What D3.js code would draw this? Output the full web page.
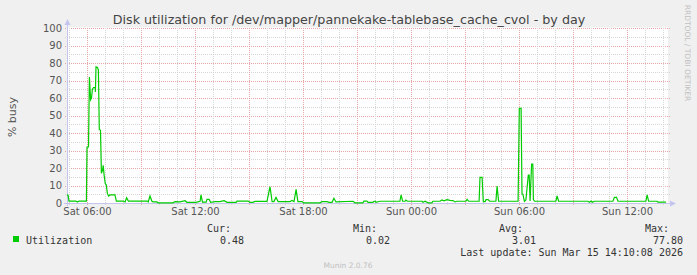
<!DOCTYPE html>
<html>
<head>
<meta charset="utf-8">
<script src="https://cdn.jsdelivr.net/npm/d3@7"></script>
<style>
	body { margin: 0; background: #f0f0f0; }
	svg { display: block; }
</style>
</head>
<body>
<div id="chart"></div>
<script>
// samples (day of March 2026 + local time)
const sampleTimes = [
	'14 04:53', '14 04:57', '14 05:00', '14 05:23', '14 05:28', '14 05:33', '14 05:58',
	'14 06:00', '14 06:05', '14 06:08', '14 06:12', '14 06:15', '14 06:18', '14 06:22',
	'14 06:27', '14 06:28', '14 06:30', '14 06:35', '14 06:38', '14 06:41', '14 06:45',
	'14 06:48', '14 06:52', '14 06:54', '14 06:57', '14 07:01', '14 07:04', '14 07:08',
	'14 07:12', '14 07:17', '14 07:33', '14 07:38', '14 08:01', '14 08:07', '14 08:12',
	'14 08:18', '14 09:21', '14 09:24', '14 09:30', '14 09:36', '14 09:40', '14 09:53',
	'14 09:57', '14 10:47', '14 10:53', '14 11:10', '14 11:27', '14 11:33', '14 12:03',
	'14 12:17', '14 12:20', '14 12:25', '14 12:37', '14 12:40', '14 12:47', '14 12:52',
	'14 13:07', '14 13:23', '14 13:37', '14 13:47', '14 14:17', '14 14:20', '14 14:57',
	'14 15:03', '14 15:13', '14 15:20', '14 16:00', '14 16:10', '14 16:17', '14 16:23',
	'14 16:30', '14 16:37', '14 17:17', '14 17:23', '14 17:30', '14 17:37', '14 17:43',
	'14 17:57', '14 18:02', '14 18:57', '14 19:03', '14 19:20', '14 19:27', '14 19:37',
	'14 19:43', '14 19:50', '14 20:47', '14 20:53', '14 21:20', '14 21:23', '14 21:33',
	'14 21:37', '14 21:53', '14 21:57', '14 22:02', '14 22:03', '14 22:17', '14 23:23',
	'14 23:27', '14 23:32', '14 23:40', '14 23:43', '14 23:48', '15 00:37', '15 00:40',
	'15 00:47', '15 00:57', '15 01:10', '15 01:13', '15 01:37', '15 01:43', '15 01:50',
	'15 02:00', '15 02:10', '15 02:20', '15 02:27', '15 02:33', '15 03:03', '15 03:07',
	'15 03:12', '15 03:47', '15 03:50', '15 03:57', '15 04:01', '15 04:07', '15 04:10',
	'15 04:17', '15 04:22', '15 04:43', '15 04:47', '15 04:52', '15 05:57', '15 06:01',
	'15 06:07', '15 06:10', '15 06:13', '15 06:18', '15 06:23', '15 06:31', '15 06:34',
	'15 06:37', '15 06:42', '15 06:46', '15 06:48', '15 06:52', '15 08:03', '15 08:07',
	'15 08:12', '15 09:50', '15 09:55', '15 10:00', '15 10:05', '15 10:10', '15 11:13',
	'15 11:18', '15 11:25', '15 11:30', '15 13:03', '15 13:07', '15 13:12', '15 13:40',
	'15 13:43', '15 14:10',
]
const busy = [
	4.5, 4.5, 1.1, 1.1, 0.6, 1.1, 1.1,
	32, 32, 72, 59, 60, 65, 66,
	66, 63.5, 77.8, 77.5, 76, 42, 41.5,
	17, 19, 21.5, 16, 11, 10.5, 5.5,
	4, 4.6, 4.6, 1.1, 1.1, 0.6, 3,
	1.1, 1.1, 0.6, 4, 1.1, 0.6, 0.6,
	0.1, 0.1, 0.8, 0.6, 1.3, 0.4, 0.4,
	1, 4.6, 0.5, 0.5, 2.1, 2.1, 0.4,
	0.8, 0.8, 1.3, 0.4, 0.4, 1.1, 1.1,
	0.4, 0.4, 0.9, 0.9, 9.3, 0.8, 0.8,
	3.2, 0.8, 0.8, 1.5, 0.8, 7.8, 0.8,
	0.8, 0.1, 0.1, 0.8, 0.8, 0.4, 0.4,
	2.7, 0.6, 1.0, 0.1, 0.1, 1.1, 1.1,
	0.4, 0.4, 1.0, 1.0, 0.4, 1.0, 1.0,
	4.6, 1.0, 1.0, 1.7, 1.0, 1.0, 0.4,
	1.0, 0.1, 0.1, 1.0, 1.0, 1.7, 1.2,
	1.9, 1.5, 1.4, 0.6, 1.0, 1.0, 2.1,
	1.0, 1.0, 14.7, 14.7, 0.8, 0.8, 1.9,
	1.9, 1.0, 1.0, 9.7, 1.0, 1.0, 54.1,
	54.1, 5.1, 5, 0.9, 1.7, 16, 16,
	1.1, 22.3, 22.3, 2, 1.0, 1.0, 4,
	1.0, 1.0, 0.4, 1.1, 0.4, 1.0, 1.0,
	3.2, 3.2, 1.0, 1.0, 4.6, 1.0, 1.0,
	0.48, 0.48,
]

const legendHeads = ['Cur:', 'Min:', 'Avg:', 'Max:']
const legendValues = ['0.48', '0.02', '3.01', '77.80']

const title = 'Disk utilization for /dev/mapper/pannekake-tablebase_cache_cvol - by day'
const seriesName = 'Utilization'
const lastUpdate = 'Last update: Sun Mar 15 14:10:08 2026'

const fullWidth = 697
const fullHeight = 275
const plot = {left: 67, right: 667, top: 28, bottom: 203}

const parseTime = d3.timeParse('%Y-%m-%d %H:%M')
const data = sampleTimes.map((t, i) => ({
	time: parseTime('2026-03-' + t),
	value: busy[i],
}))

const start = new Date(2026, 2, 14, 4, 53, 20)
const end = new Date(2026, 2, 15, 14, 13, 20)

const x = d3.scaleTime().domain([start, end]).range([plot.left, plot.right])
const y = d3.scaleLinear().domain([0, 100]).range([plot.bottom, plot.top])

const svg = d3
	.select('#chart')
	.append('svg')
	.attr('width', fullWidth)
	.attr('height', fullHeight)
	.style('font-family', 'DejaVu Sans')

svg.append('rect').attr('width', fullWidth).attr('height', fullHeight).attr('fill', '#f0f0f0')

svg
	.append('rect')
	.attr('x', plot.left)
	.attr('y', plot.top - 0.5)
	.attr('width', plot.right - plot.left + 1)
	.attr('height', plot.bottom - plot.top + 0.5)
	.attr('fill', '#ffffff')

const minorColor = '#d6d6d6'
const majorColor = '#e9a8a8'

// horizontal grid
const grid = svg.append('g').attr('shape-rendering', 'crispEdges')
d3.range(5, 100, 5)
	.filter((v) => v % 10 !== 0)
	.forEach((v) => {
		grid
			.append('line')
			.attr('x1', plot.left - 2)
			.attr('x2', plot.right + 3)
			.attr('y1', Math.round(y(v)) + 0.5)
			.attr('y2', Math.round(y(v)) + 0.5)
			.attr('stroke', minorColor)
			.attr('stroke-dasharray', '1,1')
	})
d3.range(10, 101, 10).forEach((v) => {
	grid
		.append('line')
		.attr('x1', plot.left - 2)
		.attr('x2', plot.right + 3)
		.attr('y1', Math.round(y(v)) + 0.5)
		.attr('y2', Math.round(y(v)) + 0.5)
		.attr('stroke', majorColor)
		.attr('stroke-dasharray', '1,1')
})

// vertical grid
const hours = d3.timeHour.range(start, end)
hours
	.filter((h) => h.getHours() % 3 !== 0)
	.forEach((h) => {
		grid
			.append('line')
			.attr('x1', Math.round(x(h)) + 0.5)
			.attr('x2', Math.round(x(h)) + 0.5)
			.attr('y1', plot.top)
			.attr('y2', plot.bottom + 2)
			.attr('stroke', minorColor)
			.attr('stroke-dasharray', '1,1')
	})
hours
	.filter((h) => h.getHours() % 3 === 0)
	.forEach((h) => {
		grid
			.append('line')
			.attr('x1', Math.round(x(h)) + 0.5)
			.attr('x2', Math.round(x(h)) + 0.5)
			.attr('y1', plot.top)
			.attr('y2', plot.bottom + 3)
			.attr('stroke', majorColor)
			.attr('stroke-dasharray', '1,1')
	})

// axes
const axisColor = '#c4c4ee'
svg
	.append('line')
	.attr('x1', plot.left + 0.5)
	.attr('x2', plot.left + 0.5)
	.attr('y1', plot.bottom + 3)
	.attr('y2', plot.top - 6)
	.attr('stroke', axisColor)
svg
	.append('path')
	.attr('d', `M${plot.left - 2.5},${plot.top - 3} L${plot.left + 0.5},${plot.top - 9} L${plot.left + 3.5},${plot.top - 3}Z`)
	.attr('fill', axisColor)
svg
	.append('line')
	.attr('x1', plot.left - 3)
	.attr('x2', plot.right + 5)
	.attr('y1', plot.bottom + 0.5)
	.attr('y2', plot.bottom + 0.5)
	.attr('stroke', axisColor)
svg
	.append('path')
	.attr('d', `M${plot.right + 3},${plot.bottom - 2.5} L${plot.right + 9},${plot.bottom + 0.5} L${plot.right + 3},${plot.bottom + 3.5}Z`)
	.attr('fill', axisColor)

// tick labels
const yAxis = d3.axisLeft(y).tickValues(d3.range(0, 101, 10)).tickSize(0).tickPadding(0)
const yg = svg
	.append('g')
	.attr('transform', `translate(${plot.left - 5},0)`)
	.call(yAxis)
yg.select('.domain').remove()
yg.selectAll('text').attr('font-family', 'DejaVu Sans').attr('font-size', 10).attr('fill', '#555')

const xAxis = d3
	.axisBottom(x)
	.ticks(d3.timeHour.every(6))
	.tickFormat(d3.timeFormat('%a %H:%M'))
	.tickSize(0)
	.tickPadding(0)
const xg = svg
	.append('g')
	.attr('transform', `translate(0,${plot.bottom + 5})`)
	.call(xAxis)
xg.select('.domain').remove()
xg.selectAll('text').attr('font-family', 'DejaVu Sans').attr('font-size', 10).attr('fill', '#555')

// series line
const line = d3
	.line()
	.x((d) => x(d.time))
	.y((d) => y(d.value))
svg
	.append('path')
	.datum(data)
	.attr('d', line)
	.attr('fill', 'none')
	.attr('stroke', '#00cc00')
	.attr('stroke-width', 1.2)
	.attr('stroke-linejoin', 'miter')

// titles
svg
	.append('text')
	.attr('x', 349)
	.attr('y', 24)
	.attr('text-anchor', 'middle')
	.attr('font-size', 12.7)
	.attr('fill', '#444')
	.text(title)

svg
	.append('text')
	.attr('transform', 'translate(16,117) rotate(-90)')
	.attr('text-anchor', 'middle')
	.attr('font-size', 11)
	.attr('fill', '#555')
	.text('% busy')

svg
	.append('text')
	.attr('transform', 'translate(685,53) rotate(90)')
	.attr('text-anchor', 'middle')
	.attr('font-size', 7.5)
	.attr('fill', '#c0c0c0')
	.text('RRDTOOL / TOBI OETIKER')

// legend
const mono = 'DejaVu Sans Mono'
svg
	.append('rect')
	.attr('x', 13)
	.attr('y', 236)
	.attr('width', 6)
	.attr('height', 6)
	.attr('fill', '#00cc00')
svg
	.append('text')
	.attr('x', 26)
	.attr('y', 243.5)
	.attr('font-family', mono)
	.attr('font-size', 10)
	.attr('fill', '#333')
	.text(seriesName)

const headRight = [231, 377, 523, 669]
const valueRight = [244, 390, 536, 683]
legendHeads.forEach((h, i) => {
	svg
		.append('text')
		.attr('x', headRight[i])
		.attr('y', 231.5)
		.attr('text-anchor', 'end')
		.attr('font-family', mono)
		.attr('font-size', 10)
		.attr('fill', '#333')
		.text(h)
	svg
		.append('text')
		.attr('x', valueRight[i])
		.attr('y', 243.5)
		.attr('text-anchor', 'end')
		.attr('font-family', mono)
		.attr('font-size', 10)
		.attr('fill', '#333')
		.text(legendValues[i])
})

svg
	.append('text')
	.attr('x', 683)
	.attr('y', 255.5)
	.attr('text-anchor', 'end')
	.attr('font-family', mono)
	.attr('font-size', 10)
	.attr('fill', '#333')
	.text(lastUpdate)

svg
	.append('text')
	.attr('x', 348)
	.attr('y', 268)
	.attr('text-anchor', 'middle')
	.attr('font-size', 7.5)
	.attr('fill', '#c0c0c0')
	.text('Munin 2.0.76')
</script>
</body>
</html>
